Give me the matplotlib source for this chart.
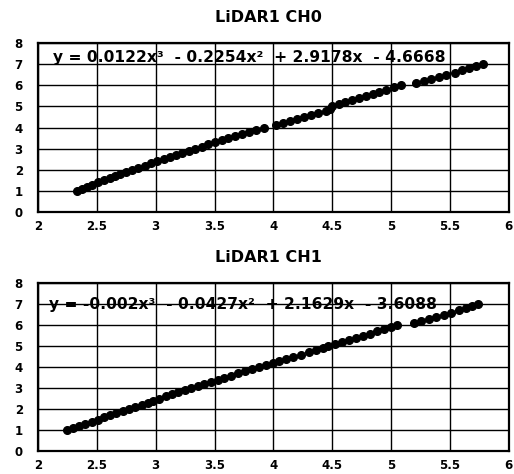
import matplotlib
matplotlib.use("Agg")
import matplotlib.pyplot as plt

titles = ["LiDAR1 CH0", "LiDAR1 CH1"]
equations = ["y = 0.0122x³  - 0.2254x²  + 2.9178x  - 4.6668",
             "y = -0.002x³  - 0.0427x²  + 2.1629x  - 3.6088"]

ch0_y = [1.0, 1.1, 1.2, 1.3, 1.4, 1.5, 1.6, 1.7, 1.8, 1.9,
         2.0, 2.1, 2.2, 2.3, 2.4, 2.5, 2.6, 2.7, 2.8, 2.9,
         3.0, 3.1, 3.2, 3.3, 3.4, 3.5, 3.6, 3.7, 3.8, 3.9,
         4.0, 4.1, 4.2, 4.3, 4.4, 4.5, 4.6, 4.7, 4.8, 4.9,
         5.0, 5.1, 5.2, 5.3, 5.4, 5.5, 5.6, 5.7, 5.8, 5.9,
         6.0, 6.1, 6.2, 6.3, 6.4, 6.5, 6.6, 6.7, 6.8, 6.9, 7.0]
ch0_x = [2.33, 2.37, 2.42, 2.46, 2.51, 2.56, 2.61, 2.65, 2.70, 2.75,
         2.80, 2.85, 2.91, 2.96, 3.01, 3.07, 3.12, 3.17, 3.22, 3.28,
         3.33, 3.39, 3.44, 3.50, 3.56, 3.61, 3.67, 3.73, 3.79, 3.85,
         3.92, 4.02, 4.08, 4.14, 4.20, 4.26, 4.32, 4.38, 4.45, 4.48,
         4.50, 4.56, 4.61, 4.67, 4.73, 4.79, 4.85, 4.90, 4.96, 5.02,
         5.08, 5.21, 5.28, 5.34, 5.41, 5.47, 5.54, 5.60, 5.66, 5.72, 5.78]

ch1_y = list(ch0_y)
ch1_x = [2.25, 2.30, 2.35, 2.40, 2.46, 2.51, 2.56, 2.61, 2.66, 2.72,
         2.77, 2.82, 2.88, 2.93, 2.98, 3.03, 3.09, 3.14, 3.19, 3.25,
         3.30, 3.36, 3.41, 3.47, 3.53, 3.58, 3.64, 3.70, 3.76, 3.82,
         3.88, 3.94, 4.00, 4.05, 4.11, 4.17, 4.23, 4.30, 4.36, 4.42,
         4.46, 4.52, 4.58, 4.64, 4.70, 4.76, 4.82, 4.88, 4.94, 5.00,
         5.05, 5.19, 5.25, 5.32, 5.38, 5.45, 5.51, 5.58, 5.64, 5.69, 5.74]

x_ticks = [2, 2.5, 3, 3.5, 4, 4.5, 5, 5.5, 6]
x_labels = ["2", "2.5", "3", "3.5", "4", "4.5", "5", "5.5", "6"]
y_ticks = [0, 1, 2, 3, 4, 5, 6, 7, 8]

series = [(ch0_x, ch0_y), (ch1_x, ch1_y)]
eq_pos = [(2.13, 7.3), (2.09, 7.0)]

fig = plt.figure(figsize=(5.14, 4.74), dpi=100)
axes_rects = [[0.074, 0.5527, 0.916, 0.3565], [0.074, 0.0485, 0.916, 0.354]]
title_y = [1 - 17/474, 1 - 257/474]

for i, rect in enumerate(axes_rects):
    ax = fig.add_axes(rect)
    xs, ys = series[i]
    ax.plot(xs, ys, linestyle='none', marker='o', markersize=5.5,
            color='black', zorder=3)
    ax.set_xlim(2, 6)
    ax.set_ylim(0, 8)
    ax.set_xticks(x_ticks)
    ax.set_xticklabels(x_labels)
    ax.set_yticks(y_ticks)
    ax.grid(True, color='black', linewidth=1.0)
    ax.set_axisbelow(True)
    for s in ax.spines.values():
        s.set_linewidth(1.6)
        s.set_color('black')
    ax.tick_params(length=0, labelsize=8.5)
    ax.tick_params(axis='y', pad=11)
    ax.tick_params(axis='x', pad=6)
    for lab in ax.get_xticklabels() + ax.get_yticklabels():
        lab.set_fontweight('bold')
    ex, ey = eq_pos[i]
    ax.text(ex, ey, equations[i], fontsize=11.2, fontweight='bold',
            va='center', ha='left', zorder=4)
    fig.text(0.522, title_y[i], titles[i], fontsize=11.5,
             fontweight='bold', ha='center', va='center')

fig.savefig("out.png", dpi=100)
